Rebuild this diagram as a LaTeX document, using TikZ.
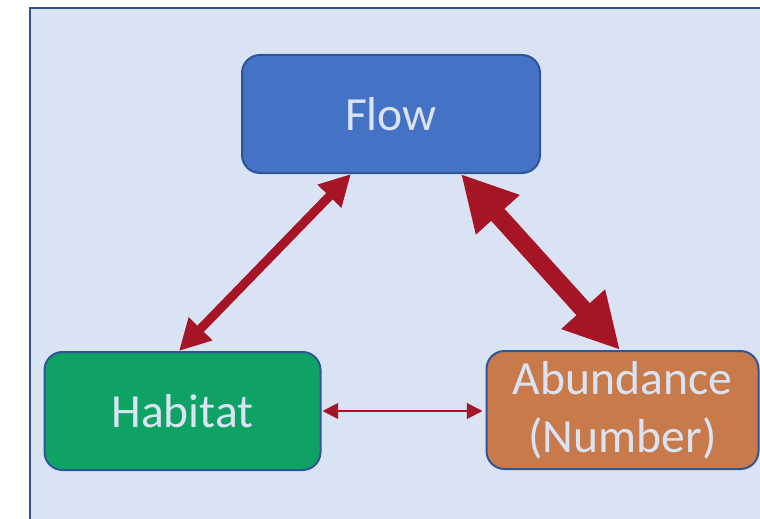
\documentclass[tikz,border=0pt]{standalone}
\usepackage{fontspec}
\setmainfont{Carlito}
\usetikzlibrary{arrows.meta}
\definecolor{panelFill}{HTML}{DAE3F3}
\definecolor{panelLine}{HTML}{2F5597}
\definecolor{flowBlue}{HTML}{4472C4}
\definecolor{habitatGreen}{HTML}{0EA264}
\definecolor{abundOrange}{HTML}{C97A4B}
\definecolor{linkRed}{HTML}{A51526}
\tikzset{
	boxNode/.style={draw=panelLine, line width=1pt, rounded corners=9pt,
		minimum height=59pt, text=panelFill, align=center,
		font=\fontsize{23.8pt}{29pt}\selectfont},
	linkArrow/.style={draw=linkRed}
}
\newcommand{\drawLinkArrow}[4]{
	\draw[linkArrow, line width=#3,
		{Triangle[length=#4,width=#4]}-{Triangle[length=#4,width=#4]}] (#1) -- (#2);
}

\begin{document}
\begin{tikzpicture}[x=0.5pt,y=-0.5pt]
	\useasboundingbox (0,0) rectangle (760,519);
	\clip (0,0) rectangle (760,519);
	\fill[panelFill] (30,8) rectangle (790,540);
	\draw[panelLine, line width=1.25pt] (30,8) rectangle (790,540);

	\node[boxNode, fill=flowBlue, minimum width=149pt] (flow) at (391,114) {Flow};
	\node[boxNode, fill=habitatGreen, minimum width=138pt] (habitat) at (182.5,411) {Habitat};
	\node[boxNode, fill=abundOrange, minimum width=136pt] (abundance) at (622.5,410) {Abundance\\(Number)};

	\coordinate (F_L) at ([xshift=-20pt]flow.south);
	\coordinate (F_R) at ([xshift=35pt]flow.south);
	\coordinate (H_T) at ([xshift=-1.75pt]habitat.north);
	\coordinate (A_T) at ([xshift=-1.25pt]abundance.north);
	\coordinate (H_R) at ([xshift=0.5pt]habitat.east);
	\coordinate (A_L) at ([xshift=-1.5pt]H_R -| abundance.west);

	\drawLinkArrow{F_L}{H_T}{4.5pt}{15.5pt}
	\drawLinkArrow{F_R}{A_T}{9pt}{27.5pt}
	\drawLinkArrow{H_R}{A_L}{1pt}{7.8pt}
\end{tikzpicture}
\end{document}
